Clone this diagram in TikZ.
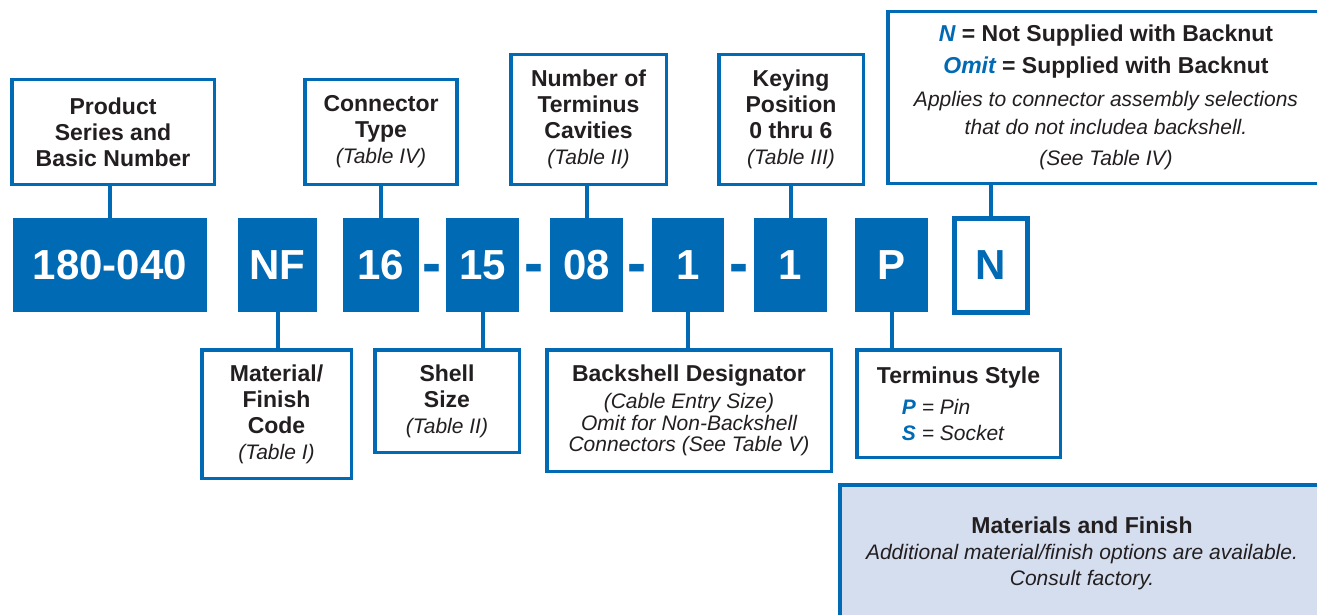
\documentclass[tikz,border=0pt]{standalone}
\usepackage{fontspec}
\setmainfont{Liberation Sans}
\usepackage{graphicx}
\definecolor{ptblue}{RGB}{0,106,180}
\definecolor{ptgrey}{RGB}{213,222,239}
\definecolor{ptblack}{RGB}{35,31,32}
\newcommand{\tabnote}[1]{{\mdseries\itshape\fontsize{21}{26}\selectfont #1}}
\newcommand{\hl}[1]{{\color{ptblue}\bfseries\itshape #1}}

\begin{document}
\begin{tikzpicture}
  [x=1pt,y=-1pt,
   codebox/.style={rectangle,fill=ptblue,text=white,inner sep=0pt,minimum height=94pt,font=\fontsize{42}{42}\selectfont\bfseries},
   infobox/.style={rectangle,draw=ptblue,line width=3.5pt,fill=white,inner sep=0pt,align=center,text=ptblack,font=\fontsize{23}{26}\selectfont\bfseries},
   sepdash/.style={anchor=base,inner sep=0pt,text=ptblue,font=\fontsize{42}{42}\selectfont\bfseries},
   link/.style={draw=ptblue,line width=4pt}]

  \useasboundingbox (0,0) rectangle (1317,615);
  \clip (0,0) rectangle (1317,615);

  % part number
  \node[codebox,minimum width=194pt] (c180) at (110,265) {180-040};
  \node[codebox,minimum width=79pt] (cNF) at (277.5,265) {NF};
  \node[codebox,minimum width=76pt] (c16) at (381,265) {16};
  \node[codebox,minimum width=73pt] (c15) at (482.5,265) {15};
  \node[codebox,minimum width=73pt] (c08) at (586.5,265) {08};
  \node[codebox,minimum width=72pt] (c1a) at (688,265) {1};
  \node[codebox,minimum width=73pt] (c1b) at (790.5,265) {1};
  \node[codebox,minimum width=73pt] (cP) at (891.5,265) {P};
  \node[codebox,fill=white,draw=ptblue,line width=5pt,text=ptblue,minimum width=73pt] (cN) at (991,265.5) {N};
  \node[sepdash] (d1) at (432,284) {\scalebox{1.36}[1.5]{-}};
  \node[sepdash] (d2) at (534,284) {\scalebox{1.36}[1.5]{-}};
  \node[sepdash] (d3) at (637,284) {\scalebox{1.36}[1.5]{-}};
  \node[sepdash] (d4) at (739.5,284) {\scalebox{1.36}[1.5]{-}};

  % upper boxes
  \node[infobox,minimum width=202.5pt,minimum height=104.5pt] (series) at (113,132) {Product\\Series and\\Basic Number};
  \node[infobox,minimum width=152pt,minimum height=104.5pt] (ctype) at (381,132) {Connector\\Type\\\tabnote{(Table IV)}};
  \node[infobox,minimum width=155.5pt,minimum height=129.5pt] (cavity) at (588.5,119.5) {Number of\\Terminus\\Cavities\\\tabnote{(Table II)}};
  \node[infobox,minimum width=144.5pt,minimum height=129.5pt] (keying) at (791,119.5) {Keying\\Position\\0 thru 6\\\tabnote{(Table III)}};
  \node[infobox,minimum width=436.5pt,minimum height=171.5pt] (backnut) at (1106,97.5)
    {\hl{N} = Not Supplied with Backnut\\[6pt]
     \hl{Omit} = Supplied with Backnut\\[7pt]
     \tabnote{Applies to connector assembly selections}\\[2pt]
     \tabnote{that do not includea backshell.}\\[5pt]
     \tabnote{(See Table IV)}};

  % lower boxes
  \node[infobox,minimum width=149.5pt,minimum height=128.5pt] (finish) at (276.5,414) {Material/\\Finish\\Code\\\tabnote{(Table I)}};
  \node[infobox,minimum width=144.5pt,minimum height=102.5pt] (shell) at (447,401) {Shell\\Size\\\tabnote{(Table II)}};
  \node[infobox,minimum width=284.5pt,minimum height=121.5pt] (bshell) at (689,410.5)
    {Backshell Designator\\[1pt]
     \tabnote{(Cable Entry Size)}\\[-4pt]
     \tabnote{Omit for Non-Backshell}\\[-5pt]
     \tabnote{Connectors (See Table V)}};
  \node[infobox,align=left,minimum width=203.5pt,minimum height=107.5pt] (tstyle) at (958.5,403.5)
    {Terminus Style\\[5pt]
     \hspace*{25pt}\tabnote{\hl{P} = Pin}\\
     \hspace*{25pt}\tabnote{\hl{S} = Socket}};
  \node[infobox,fill=ptgrey,minimum width=484.5pt,minimum height=136.5pt] (matfin) at (1082,553)
    {Materials and Finish\\
     \tabnote{Additional material/finish options are available.}\\
     \tabnote{Consult factory.}};

  \foreach \from/\to in {series/c180,ctype/c16,cavity/c08,keying/c1b,backnut/cN}
    \draw[link] (\to.north) -- (\to.north |- \from.south);
  \foreach \from/\to in {cNF/finish,c15/shell,c1a/bshell,cP/tstyle}
    \draw[link] (\from.south) -- (\from.south |- \to.north);
\end{tikzpicture}
\end{document}
